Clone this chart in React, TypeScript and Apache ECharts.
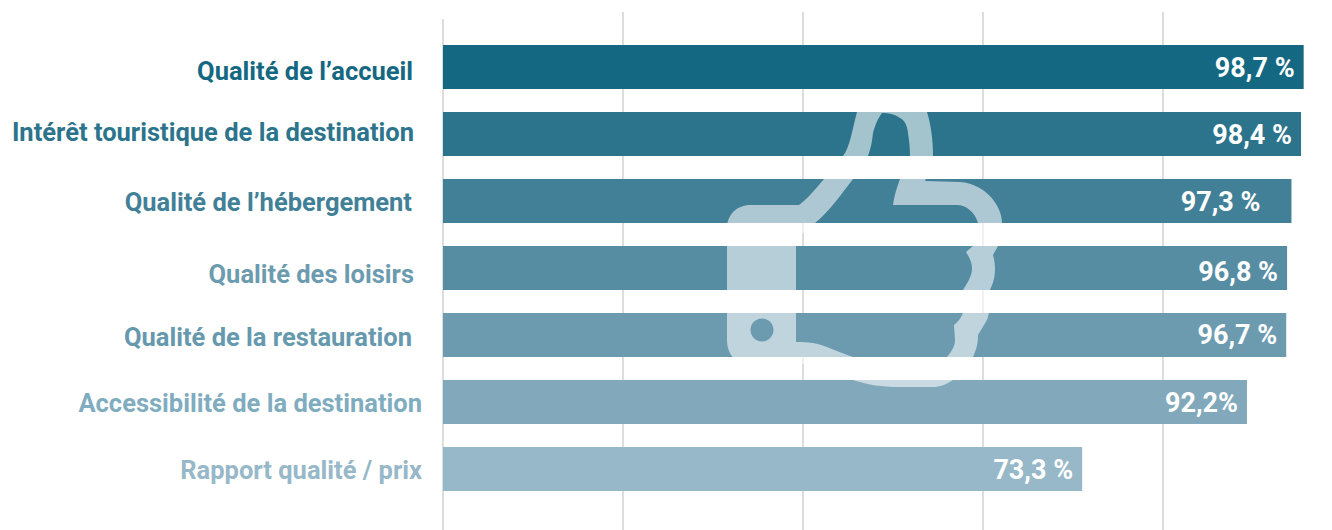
import React, { useEffect, useRef } from "react";
import * as echarts from "echarts";

const categories = [
  "Qualité de l’accueil",
  "Intérêt touristique de la destination",
  "Qualité de l’hébergement",
  "Qualité des loisirs",
  "Qualité de la restauration",
  "Accessibilité de la destination",
  "Rapport qualité / prix",
];
const values = [98.7, 98.4, 97.3, 96.8, 96.7, 92.2, 73.3];
const valueLabels = ["98,7 %", "98,4 %", "97,3 %", "96,8 %", "96,7 %", "92,2%", "73,3 %"];
const barColors = ["#156882", "#2b748c", "#428097", "#568da3", "#6c9bb0", "#82a9bb", "#97b8c8"];
const labelColors = ["#156882", "#2b748c", "#428097", "#6c9bb0", "#6699ae", "#7facbf", "#97b8c8"];
const labelShiftRight = [9, 8, 10, 8, 10, 0, 0];
const labelShiftDown = [4, -2, 1, 6, 2, 1, 1];
const valueLabelShiftLeft = [0, 0, 22, 0, 0, 0, 0];
const valueLabelShiftDown = [1, 1, 1, 4, 0, 1, 1];

const axisMax = 101.95;
const axisStep = 20.64;
const FONT = "Roboto";

const THUMB =
  "M727 228 C727 214 738 205 750 205 L799 205 C812 196 832 168 843 156 C850 147 852 130 857 112 C862 102 872 99 885 99 C910 99 924 102 927 112 C931 125 933 140 933 156 C933 165 929 173 925 181 L960 182 C985 184 1002 205 1002 223 C1002 232 1000 240 998 246 L993 255 C995 262 995 268 995 268 C995 280 992 285 990 290 C990 303 990 312 987 320 L978 335 C978 345 976 350 973 357 C968 368 962 376 953 380 C945 385 940 387 933 387 L900 387 C880 387 870 385 853 380 C835 374 825 367 808 364 L745 364 C733 362 727 352 727 340 Z " +
  "M796 238 L796 342 C802 342 807 342 813 343 C825 345 838 352 853 357 C870 362 885 365 900 365 L930 365 C938 365 943 362 947 357 C952 351 955 346 955 340 L954 325 C958 322 961 318 963 313 C963 305 963 298 963 290 C968 282 972 276 972 268 C972 262 969 257 966 252 L973 246 C977 238 978 230 978 223 C975 212 966 205 957 205 L893 205 C894 196 897 187 900 179 C905 172 910 165 910 156 C910 148 909 140 908 133 C907 124 904 120 900 118 C895 114 888 113 882 113 C877 120 875 126 873 133 C872 142 871 148 868 156 C864 165 858 172 853 179 C842 193 830 211 815 223 C808 229 802 234 796 238 Z " +
  "M750.5 330 C750.5 336 755.5 341.5 762 341.5 C768.5 341.5 773.5 336 773.5 330 C773.5 323.5 768.5 318.5 762 318.5 C755.5 318.5 750.5 323.5 750.5 330 Z";

echarts.graphic.registerShape("thumb", echarts.graphic.extendPath(THUMB, {}));

const gridLine = { color: "#d2d2d2", width: 1.5 };

export default function App() {
  const ref = useRef<HTMLDivElement>(null);
  useEffect(() => {
    const chart = echarts.init(ref.current!, null, { renderer: "svg" });
    const rich: Record<string, any> = {};
    categories.forEach((_, i) => {
      rich["c" + i] = {
        color: labelColors[i],
        fontFamily: FONT,
        fontWeight: 700,
        fontSize: 25.5,
        padding: [
          Math.max(0, labelShiftDown[i]) * 2,
          labelShiftRight[i],
          Math.max(0, -labelShiftDown[i]) * 2,
          0,
        ],
      };
    });
    const hiddenAxis = { axisLine: { show: false }, axisTick: { show: false }, axisLabel: { show: false } };
    chart.setOption({
      animation: false,
      backgroundColor: "#ffffff",
      grid: [
        { left: 443, top: 33.5, width: 889, height: 469 },
        { left: 443, top: 12, width: 889, height: 518 },
        { left: 443, top: 19, width: 889, height: 511 },
      ],
      xAxis: [
        { type: "value", gridIndex: 0, min: 0, max: axisMax, interval: axisStep, show: false },
        {
          type: "value",
          gridIndex: 1,
          min: 0,
          max: axisMax,
          interval: axisStep,
          ...hiddenAxis,
          splitLine: { show: true, showMinLine: false, showMaxLine: false, lineStyle: gridLine },
        },
        {
          type: "value",
          gridIndex: 2,
          min: 0,
          max: axisMax,
          interval: axisMax,
          ...hiddenAxis,
          splitLine: { show: true, showMaxLine: false, lineStyle: gridLine },
        },
      ],
      yAxis: [
        {
          type: "category",
          gridIndex: 0,
          inverse: true,
          data: categories,
          axisLine: { show: false },
          axisTick: { show: false },
          axisLabel: {
            margin: 21,
            interval: 0,
            formatter: (value: string) => `{c${categories.indexOf(value)}|${value}}`,
            rich,
          },
          splitLine: { show: false },
        },
        { type: "category", gridIndex: 1, show: false, data: [] },
        { type: "category", gridIndex: 2, show: false, data: [] },
      ],
      series: [
        {
          type: "bar",
          xAxisIndex: 0,
          yAxisIndex: 0,
          barWidth: 44,
          data: values.map((v, i) => ({
            value: v,
            itemStyle: { color: barColors[i] },
            label: {
              show: true,
              position: "insideRight",
              distance: 9,
              offset: [-valueLabelShiftLeft[i], valueLabelShiftDown[i]],
              formatter: valueLabels[i],
              color: "#ffffff",
              fontFamily: FONT,
              fontWeight: 700,
              fontSize: 27,
            },
          })),
        },
      ],
      graphic: [
        {
          type: "thumb",
          x: 0,
          y: 0,
          z: 100,
          silent: true,
          style: { fill: "rgba(255,255,255,0.57)" },
        },
      ],
    });
    return () => chart.dispose();
  }, []);
  return <div ref={ref} style={{ position: "absolute", left: 0, top: 0, width: 1332, height: 530 }} />;
}
